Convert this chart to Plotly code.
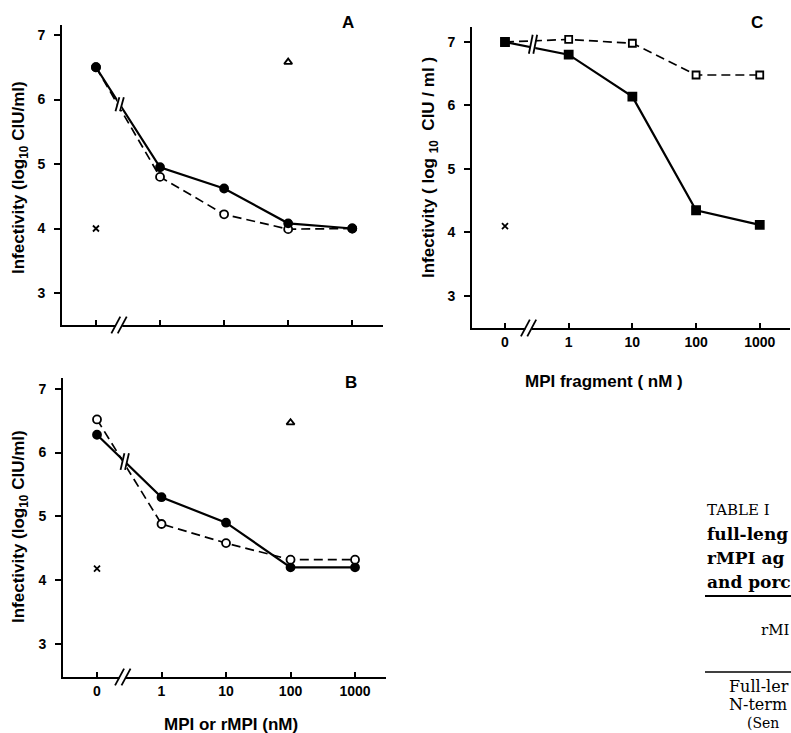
import plotly.graph_objects as go

W, H = 791, 733

# ---------------- data ----------------
conc_labels = ["0", "1", "10", "100", "1000"]
conc_pos = [0, 1, 2, 3, 4]
y_ticks = [3, 4, 5, 6, 7]

# Panel A
A_mpi = [6.5, 4.95, 4.62, 4.08, 4.0]        # filled circles, solid
A_rmpi = [6.5, 4.8, 4.22, 3.99, 4.0]        # open circles, dashed
A_cross_x, A_cross_y = [0], [4.0]
A_tri_x, A_tri_y = [3], [6.58]

# Panel B
B_mpi = [6.28, 5.3, 4.9, 4.2, 4.2]
B_rmpi = [6.52, 4.88, 4.58, 4.32, 4.32]
B_cross_x, B_cross_y = [0], [4.18]
B_tri_x, B_tri_y = [3], [6.47]

# Panel C
C_solid = [7.0, 6.8, 6.14, 4.35, 4.12]      # filled squares
C_dashed = [7.0, 7.04, 6.98, 6.48, 6.48]    # open squares
C_cross_x, C_cross_y = [0], [4.1]


def fx(px):
    return px / W


def fy(py):
    return 1 - py / H


fig = go.Figure()
BLK = "black"
DASH = "9px,5px"


def add_series(xa, ya, y, dashed, symbol, hollow, size=8):
    fig.add_trace(go.Scatter(
        x=conc_pos, y=y, xaxis=xa, yaxis=ya, mode="lines+markers",
        line=dict(color=BLK, width=1.7 if dashed else 2.2, dash=DASH if dashed else "solid"),
        marker=dict(symbol=symbol, size=size, color="white" if hollow else BLK,
                    line=dict(color=BLK, width=1.8)),
        hoverinfo="skip"))


def add_point(xa, ya, x, y, symbol, size, fill=BLK):
    fig.add_trace(go.Scatter(
        x=x, y=y, xaxis=xa, yaxis=ya, mode="markers",
        marker=dict(symbol=symbol, size=size, color=fill, line=dict(color=BLK, width=1.8)),
        hoverinfo="skip"))


# A
add_series("x", "y", A_rmpi, True, "circle", True, 8)
add_series("x", "y", A_mpi, False, "circle", False, 8)
add_point("x", "y", A_cross_x, A_cross_y, "x-thin", 6)
add_point("x", "y", A_tri_x, A_tri_y, "triangle-up", 7, "white")
# B
add_series("x2", "y2", B_mpi, False, "circle", False, 8)
add_series("x2", "y2", B_rmpi, True, "circle", True, 8)
add_point("x2", "y2", B_cross_x, B_cross_y, "x-thin", 6)
add_point("x2", "y2", B_tri_x, B_tri_y, "triangle-up", 7, "white")
# C
add_series("x3", "y3", C_dashed, True, "square", True, 7)
add_series("x3", "y3", C_solid, False, "square", False, 8)
add_point("x3", "y3", C_cross_x, C_cross_y, "x-thin", 6)

tickfont = dict(family="Liberation Sans", size=14, color=BLK, weight="bold")


def xax(dom, rng, labels):
    return dict(domain=[fx(dom[0]), fx(dom[1])], range=rng, showline=True, linewidth=2,
                linecolor=BLK, ticks="inside", ticklen=5, tickwidth=1.5, tickcolor=BLK,
                tickvals=conc_pos, ticktext=conc_labels, showticklabels=labels,
                tickfont=tickfont, showgrid=False, zeroline=False, fixedrange=True)


def yax(dom, rng, anchor):
    return dict(domain=[fy(dom[1]), fy(dom[0])], range=rng, showline=True, linewidth=2,
                linecolor=BLK, ticks="outside", ticklen=6, tickwidth=1.5, tickcolor=BLK,
                tickvals=y_ticks, tickfont=tickfont, showgrid=False, zeroline=False,
                anchor=anchor, ticklabelstandoff=6, fixedrange=True)


def yright(over, rng, anchor):
    return dict(overlaying=over, side="right", anchor=anchor, range=rng, showline=True,
                linewidth=2, linecolor=BLK, ticks="inside", ticklen=5, tickwidth=1.5,
                tickcolor=BLK, tickvals=y_ticks, showticklabels=False, showgrid=False,
                zeroline=False, fixedrange=True)


A_rng_y = [2.504, 7.155]
B_rng_y = [2.48, 7.17]
C_rng_y = [2.496, 7.236]

fig.update_layout(
    width=W, height=H, margin=dict(l=0, r=0, t=0, b=0),
    paper_bgcolor="white", plot_bgcolor="white", showlegend=False,
    xaxis=xax((62, 383), [-0.53, 4.48], False),
    yaxis=yax((25, 325), A_rng_y, "x"),
    xaxis2=xax((63, 386), [-0.527, 4.48], True),
    yaxis2=yax((378, 677), B_rng_y, "x2"),
    xaxis3=xax((472, 790), [-0.518, 4.475], True),
    yaxis3=yax((27, 328), C_rng_y, "x3"),
    yaxis4=yright("y", A_rng_y, "x"),
    yaxis5=yright("y2", B_rng_y, "x2"),
    yaxis6=yright("y3", C_rng_y, "x3"),
)
fig.update_layout(xaxis=dict(anchor="y"), xaxis2=dict(anchor="y2"), xaxis3=dict(anchor="y3"))

shapes = []


def axis_break(xref, ydref, xc):
    # white gap + "//" on the x axis
    shapes.append(dict(type="rect", xref=xref, yref=ydref, x0=xc - 0.05, x1=xc + 0.05,
                       y0=-0.01, y1=0.01, fillcolor="white", line=dict(width=0), layer="above"))
    for off in (-0.05, 0.05):
        shapes.append(dict(type="line", xref=xref, yref=ydref, x0=xc + off - 0.07, x1=xc + off + 0.07,
                           y0=-0.028, y1=0.028, line=dict(color=BLK, width=1.8), layer="above"))


def line_break(xref, yref, xc, yc, h, gap=0.035):
    shapes.append(dict(type="rect", xref=xref, yref=yref, x0=xc - gap, x1=xc + gap,
                       y0=yc - h * 0.8, y1=yc + h * 0.8, fillcolor="white", line=dict(width=0),
                       layer="above"))
    for off in (-gap, gap):
        shapes.append(dict(type="line", xref=xref, yref=yref, x0=xc + off - 0.03, x1=xc + off + 0.03,
                           y0=yc - h, y1=yc + h, line=dict(color=BLK, width=1.8), layer="above"))


axis_break("x", "y domain", 0.36)
axis_break("x2", "y2 domain", 0.4)
axis_break("x3", "y3 domain", 0.37)


def interp(vals, t):
    return vals[0] + (vals[1] - vals[0]) * t


line_break("x", "y", 0.37, interp(A_mpi, 0.37), 0.11)
line_break("x2", "y2", 0.43, interp(B_mpi, 0.43), 0.13)
line_break("x3", "y3", 0.44, (interp(C_solid, 0.44) + interp(C_dashed, 0.44)) / 2, 0.15)

# table rules (bottom right)
shapes.append(dict(type="line", xref="paper", yref="paper", x0=fx(705), x1=fx(791),
                   y0=fy(596), y1=fy(596), line=dict(color=BLK, width=2)))
shapes.append(dict(type="line", xref="paper", yref="paper", x0=fx(705), x1=fx(791),
                   y0=fy(672), y1=fy(672), line=dict(color=BLK, width=1.3)))
fig.update_layout(shapes=shapes)

ann = []
TF = dict(family="Liberation Sans", size=17, color=BLK, weight="bold")


def txt(x, y, s, font, angle=0, xanchor="center"):
    ann.append(dict(x=fx(x), y=fy(y), xref="paper", yref="paper", text=s, showarrow=False,
                    textangle=angle, font=font, xanchor=xanchor, yanchor="middle"))


txt(20, 178, "Infectivity (log<sub>10</sub> CIU/ml)", TF, -90)
txt(20, 527, "Infectivity (log<sub>10</sub> CIU/ml)", TF, -90)
txt(430, 168, "Infectivity ( log <sub>10</sub>  CIU / ml )", TF, -90)
txt(231, 724, "MPI or rMPI (nM)", TF)
txt(604, 381, "MPI fragment ( nM )", TF)
PF = dict(family="Liberation Sans", size=17, color=BLK, weight="bold")
txt(348, 23, "A", PF)
txt(351, 382, "B", PF)
txt(757, 22, "C", PF)

SF = dict(family="DejaVu Serif", size=15, color=BLK)
SFB = dict(family="DejaVu Serif", size=17, color=BLK, weight="bold")
SFR = dict(family="DejaVu Serif", size=16, color=BLK)
txt(705, 510, "TABLE I", SF, xanchor="left")
txt(705, 534, "full-leng", SFB, xanchor="left")
txt(705, 558, "rMPI ag", SFB, xanchor="left")
txt(705, 582, "and porc", SFB, xanchor="left")
txt(759, 630, "rMI", dict(family="DejaVu Serif", size=15, color=BLK), xanchor="left")
txt(727, 686, "Full-ler", SFR, xanchor="left")
txt(727, 704, "N-term", SFR, xanchor="left")
txt(745, 723, "(Sen", dict(family="DejaVu Serif", size=14, color=BLK), xanchor="left")
fig.update_layout(annotations=ann)

fig.write_html("out.html", config={"displayModeBar": False},
               post_script="document.body.style.margin='0';")
